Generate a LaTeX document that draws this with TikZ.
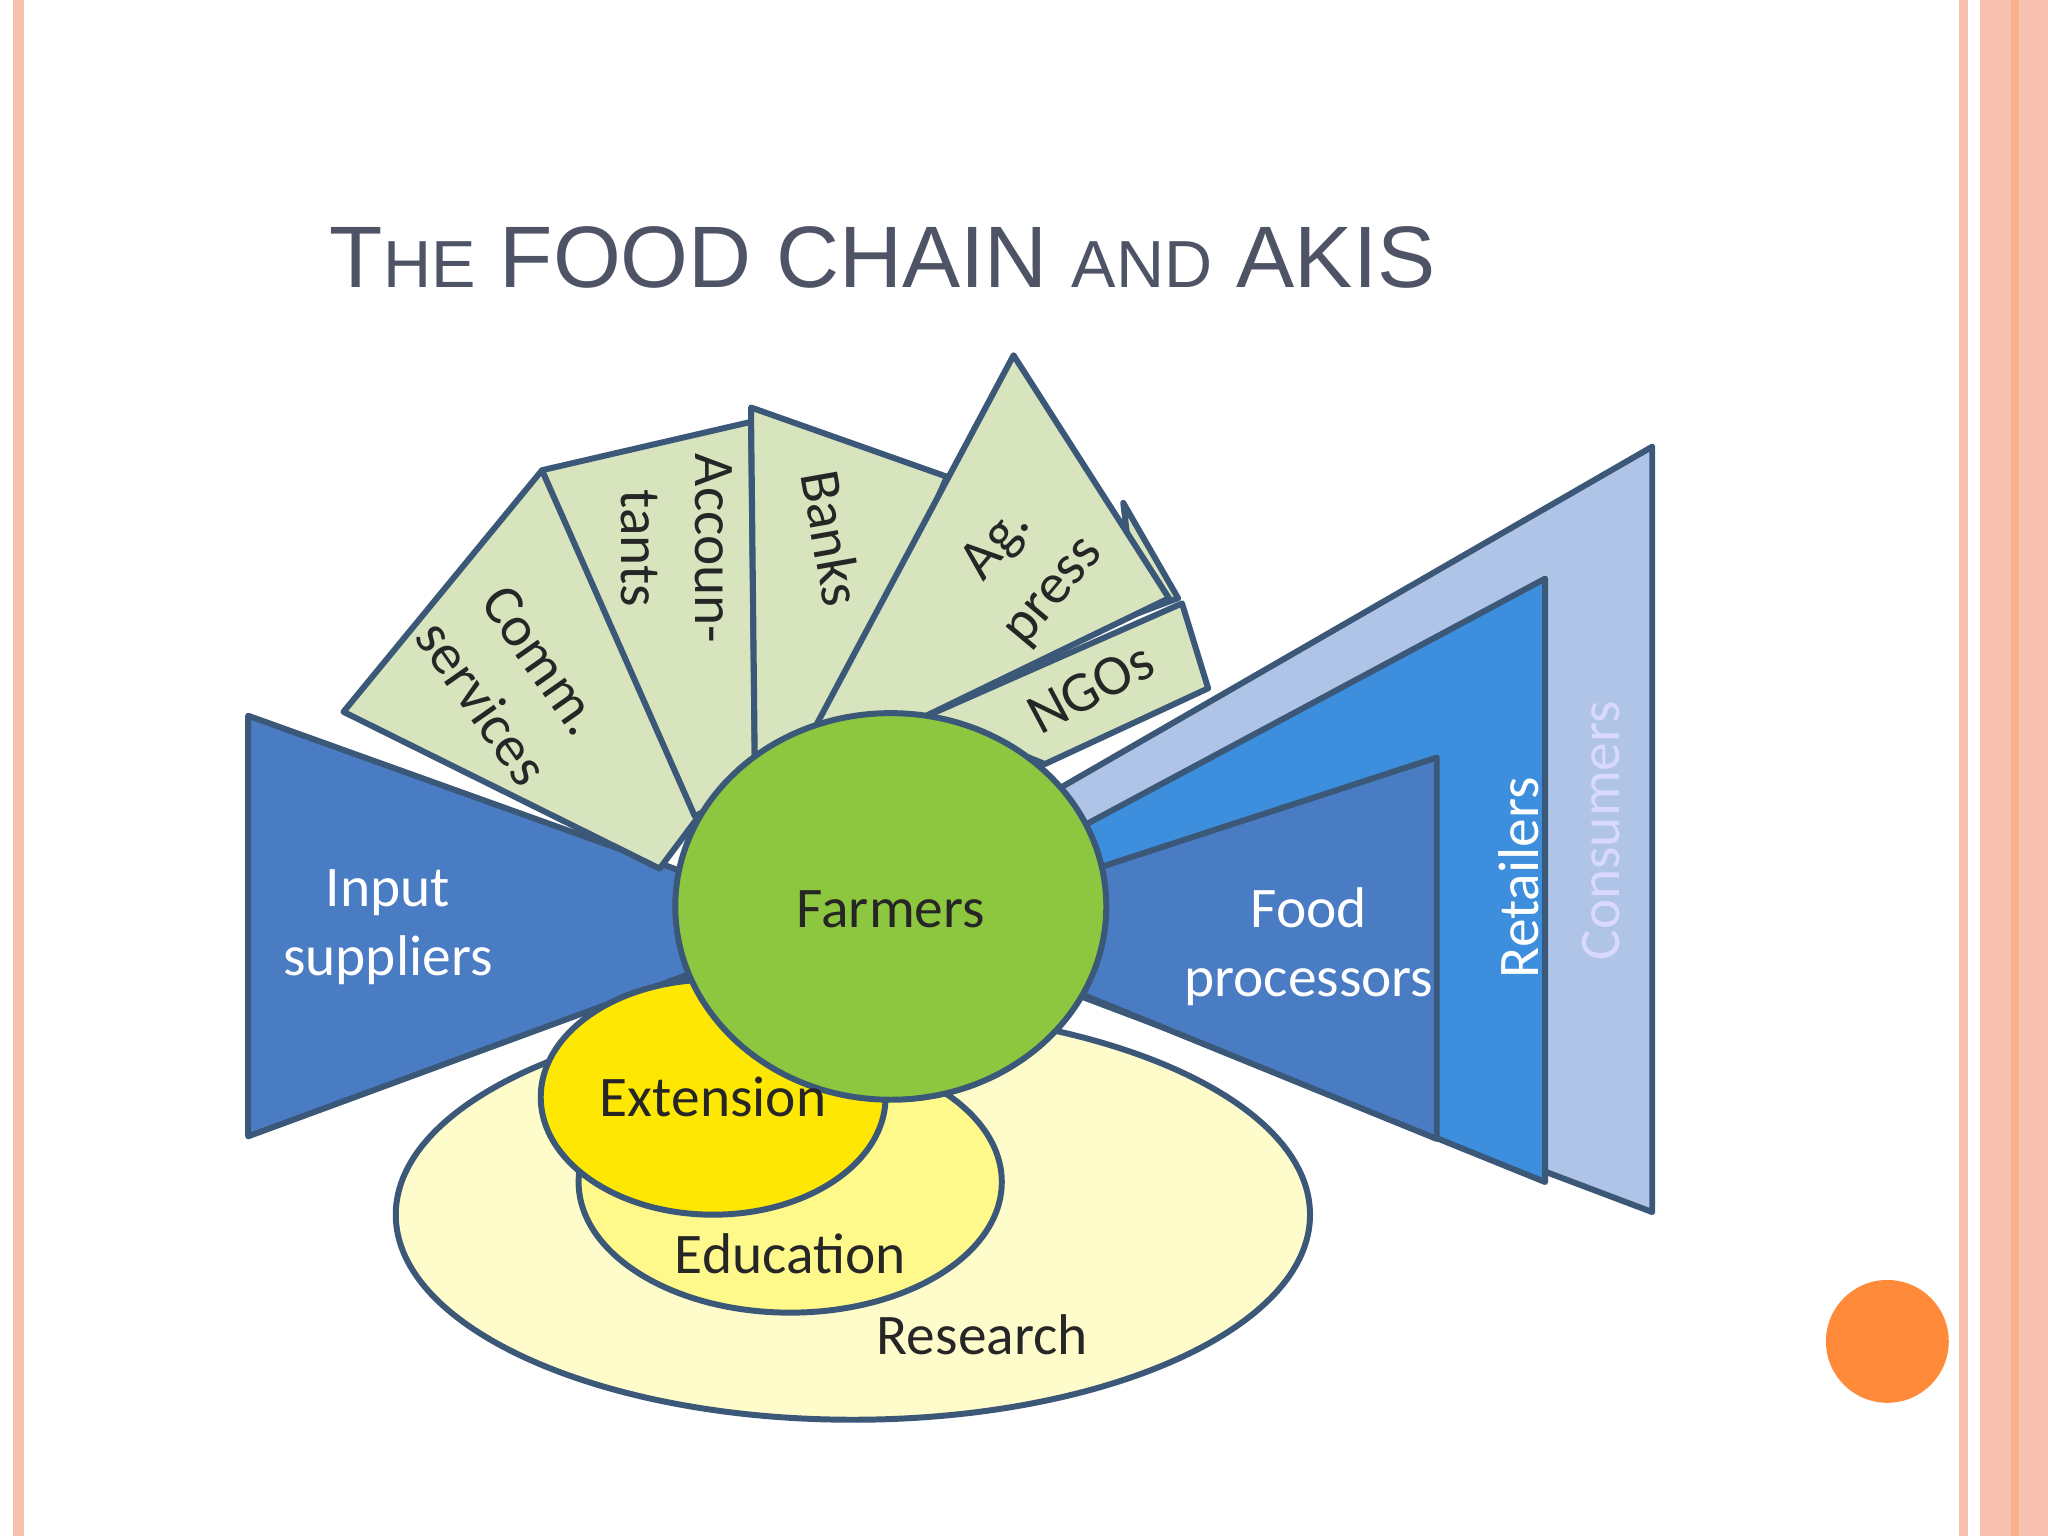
\documentclass[tikz,border=0pt]{standalone}
\usepackage{fontspec}
\setmainfont{Carlito}
\newfontfamily\ttl{Liberation Sans}
\definecolor{fanc}{HTML}{D7E4BD}
\definecolor{dk}{HTML}{4A7CC4}
\definecolor{rt}{HTML}{3D8FDD}
\definecolor{cs}{HTML}{AFC4E6}
\definecolor{edge}{HTML}{3B5878}
\definecolor{ttlc}{HTML}{4F5366}
\definecolor{farm}{HTML}{8DC63F}
\definecolor{brd}{HTML}{F8C0AE}
\definecolor{dotc}{HTML}{FF8A3A}
\begin{document}
\begin{tikzpicture}[x=0.01cm,y=-0.01cm,
  pc/.style={draw=edge,line width=1.3pt,line join=round},
  lbl/.style={font=\fontsize{12.5}{13}\selectfont,align=center,text=black!85},
  wl/.style={font=\fontsize{12.5}{15}\selectfont,align=center,text=white}]
\useasboundingbox (0,0) rectangle (1568,1176);
\fill[white] (0,0) rectangle (1568,1176);
% borders
\fill[brd] (10,0) rectangle (18,1176);
\fill[brd] (1500,0) rectangle (1507,1176);
\fill[brd] (1516,0) rectangle (1568,1176);
\fill[brd!80!orange] (1540,0) rectangle (1546,1176);
\node[anchor=west,text=ttlc,font=\ttl\fontsize{19}{22}\selectfont] (title) at (240,197) {T{\fontsize{14.5}{17}\selectfont HE} FOOD CHAIN {\fontsize{14.5}{17}\selectfont AND} AKIS};
\node[circle,fill=dotc,minimum size=0.94cm,inner sep=0] (dot) at (1445,1027) {};
% right wedges
\draw[pc,fill=cs] (800,610) -- (1265,342) -- (1265,928) -- (820,760) -- cycle;
\draw[pc,fill=rt] (815,640) -- (1183,443) -- (1183,905) -- (825,760) -- cycle;
\draw[pc,fill=dk] (830,668) -- (1100,580) -- (1100,872) -- (825,760) -- cycle;
\draw[pc,fill=dk] (190,548) -- (530,670) -- (530,745) -- (190,870) -- cycle;
% fan
\draw[pc,fill=fanc] (263,545) -- (415,360) -- (535,625) -- (505,665) -- cycle;
\draw[pc,fill=fanc] (415,360) -- (575,323) -- (578,600) -- (532,625) -- cycle;
\draw[pc,fill=fanc] (575,312) -- (725,365) -- (640,560) -- (578,592) -- cycle;
\draw[pc,fill=fanc] (860,385) -- (902,458) -- (870,470) -- cycle;
\draw[pc,fill=fanc] (625,555) -- (776,272) -- (895,458) -- (705,550) -- cycle;
\draw[pc,fill=fanc] (710,548) -- (905,462) -- (925,527) -- (800,585) -- cycle;
% ellipses
\draw[pc,fill=yellow!20] (653,930) ellipse [x radius=350,y radius=157];
\draw[pc,fill=yellow!45] (605,905) ellipse [x radius=162,y radius=100];
\draw[pc,fill=yellow!90!orange] (546,840) ellipse [x radius=132,y radius=90];
\draw[pc,fill=farm] (682,694) ellipse [x radius=165,y radius=148];
% labels
\node[lbl] (farmers) at (682,696) {Farmers};
\node[lbl] (ext) at (546,840) {Extension};
\node[lbl] (edu) at (605,960) {Education};
\node[lbl] (res) at (752,1022) {Research};
\node[wl] (inp) at (297,710) {Input\\suppliers};
\node[wl] (fp) at (1002,725) {Food\\processors};
\node[wl,rotate=90] (ret) at (1163,672) {Retailers};
\node[wl,rotate=90,text=white!85!blue] (con) at (1226,636) {Consumers};
\node[lbl,rotate=-55,font=\fontsize{12.5}{16}\selectfont] (comm) at (392,522) {Comm.\\services};
\node[lbl,rotate=-90,font=\fontsize{12.5}{16}\selectfont] (acc) at (518,420) {Accoun-\\tants};
\node[lbl,rotate=-80] (banks) at (637,412) {Banks};
\node[lbl,rotate=50,font=\fontsize{12.5}{16}\selectfont] (ag) at (785,435) {Ag.\\press};
\node[lbl,rotate=28] (ngo) at (835,527) {NGOs};
\end{tikzpicture}
\end{document}
